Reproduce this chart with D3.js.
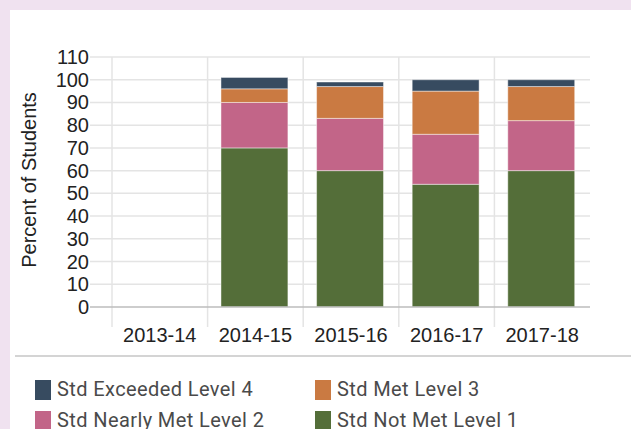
<!DOCTYPE html>
<html>
<head>
<meta charset="utf-8">
<script src="https://cdn.jsdelivr.net/npm/d3@7"></script>
<style>
  html, body { margin: 0; padding: 0; background: #f0e2f0; }
  svg { display: block; }
</style>
</head>
<body>
<svg id="chart" width="631" height="429"></svg>
<script>
// chart data
const years = ["2013-14", "2014-15", "2015-16", "2016-17", "2017-18"];
const notMet = [null, 70, 60, 54, 60];
const nearlyMet = [null, 20, 23, 22, 22];
const met = [null, 6, 14, 19, 15];
const exceeded = [null, 5, 2, 5, 3];
const yTicks = [0, 10, 20, 30, 40, 50, 60, 70, 80, 90, 100, 110];

const seriesNames = ["Std Not Met Level 1", "Std Nearly Met Level 2", "Std Met Level 3", "Std Exceeded Level 4"];
const seriesColors = ["#546e39", "#c26588", "#ca7a42", "#374b60"];
const legendOrder = [3, 2, 1, 0];

const svg = d3.select("#chart");

// white card
svg.append("rect")
  .attr("x", 10).attr("y", 10)
  .attr("width", 640).attr("height", 440)
  .attr("fill", "#fff");

const x = d3.scaleBand().domain(years).range([112, 590]);
const y = d3.scaleLinear().domain([0, 110]).range([307, 57]);

// horizontal gridlines
svg.append("g")
  .selectAll("line")
  .data(yTicks.filter((t) => t > 0))
  .join("line")
  .attr("x1", 90).attr("x2", 590)
  .attr("y1", (d) => y(d)).attr("y2", (d) => y(d))
  .attr("stroke", "#e4e4e4")
  .attr("stroke-width", 1.5);

// vertical gridlines at band starts
svg.append("g")
  .selectAll("line")
  .data(years)
  .join("line")
  .attr("x1", (d) => x(d)).attr("x2", (d) => x(d))
  .attr("y1", y(110)).attr("y2", 327)
  .attr("stroke", "#e4e4e4")
  .attr("stroke-width", 1.5);

// stacked bars
const table = years.map((yr, i) => ({
  year: yr,
  s0: notMet[i] || 0,
  s1: nearlyMet[i] || 0,
  s2: met[i] || 0,
  s3: exceeded[i] || 0,
}));
const stack = d3.stack().keys(["s0", "s1", "s2", "s3"])(table);

const barW = x.bandwidth() * 0.7;
const barOff = x.bandwidth() * 0.14;

svg.append("g")
  .selectAll("g")
  .data(stack)
  .join("g")
  .attr("fill", (d, i) => seriesColors[i])
  .selectAll("rect")
  .data((d) => d.filter((p) => p[1] > p[0]))
  .join("rect")
  .attr("x", (p) => x(p.data.year) + barOff)
  .attr("width", barW)
  .attr("y", (p) => y(p[1]))
  .attr("height", (p) => y(p[0]) - y(p[1]))
  .attr("stroke", "rgba(255,255,255,0.45)")
  .attr("stroke-width", 1);

// zero axis line
svg.append("line")
  .attr("x1", 90).attr("x2", 590)
  .attr("y1", y(0)).attr("y2", y(0))
  .attr("stroke", "#bdbdbd")
  .attr("stroke-width", 1.5);

// y tick labels
svg.append("g")
  .selectAll("text")
  .data(yTicks)
  .join("text")
  .attr("x", 89)
  .attr("y", (d) => y(d))
  .attr("dy", "0.35em")
  .attr("text-anchor", "end")
  .attr("font-family", "Liberation Sans, Arial, sans-serif")
  .attr("font-size", 20)
  .attr("fill", "#222")
  .text((d) => d);

// x labels
svg.append("g")
  .selectAll("text")
  .data(years)
  .join("text")
  .attr("x", (d) => x(d) + x.bandwidth() / 2)
  .attr("y", 342)
  .attr("text-anchor", "middle")
  .attr("font-family", "Liberation Sans, Arial, sans-serif")
  .attr("font-size", 20)
  .attr("fill", "#222")
  .text((d) => d);

// y title
svg.append("text")
  .attr("transform", "translate(36,180) rotate(-90)")
  .attr("text-anchor", "middle")
  .attr("font-family", "Liberation Sans, Arial, sans-serif")
  .attr("font-size", 20)
  .attr("fill", "#222")
  .text("Percent of Students");

// separator
svg.append("line")
  .attr("x1", 15).attr("x2", 631)
  .attr("y1", 356).attr("y2", 356)
  .attr("stroke", "#d4d4d4")
  .attr("stroke-width", 2);

// legend (second row is clipped by the bottom edge, as in the original)
const legend = svg.append("g")
  .selectAll("g")
  .data(legendOrder)
  .join("g")
  .attr("transform", (d, i) => `translate(${i % 2 === 0 ? 35 : 315},${380 + Math.floor(i / 2) * 31})`);

legend.append("rect")
  .attr("width", 16).attr("height", 20)
  .attr("fill", (d) => seriesColors[d]);

legend.append("text")
  .attr("x", 22)
  .attr("y", 15.5)
  .attr("font-family", "Roboto, sans-serif")
  .attr("font-size", 20)
  .attr("letter-spacing", 0.4)
  .attr("fill", "#4a4a4a")
  .text((d) => seriesNames[d]);
</script>
</body>
</html>
